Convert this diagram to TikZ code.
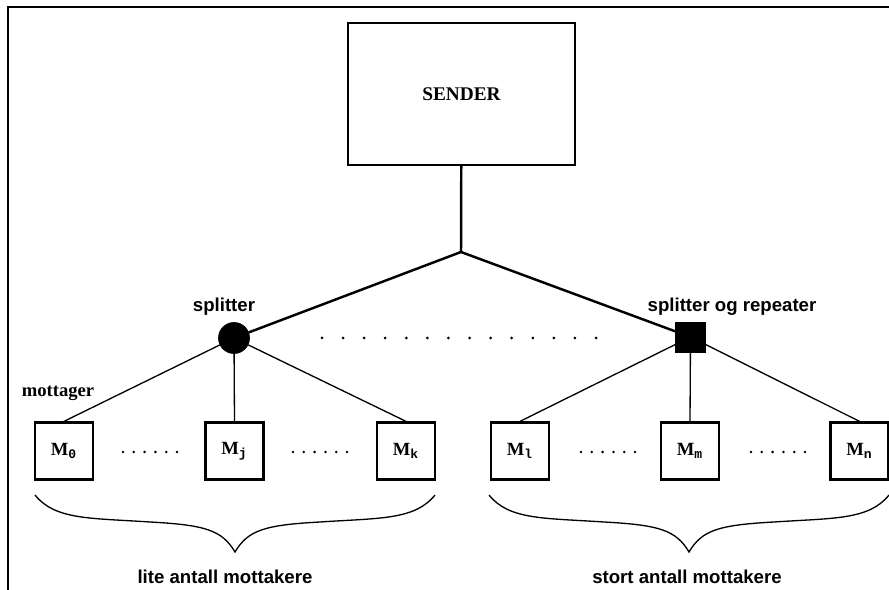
\documentclass[tikz,border=0pt]{standalone}
\usepackage{fontspec}
\setmainfont{Liberation Serif}
\setsansfont{Liberation Sans}
\setmonofont{Liberation Mono}
\usepackage{tikz}
\usetikzlibrary{calc, shapes}
\tikzstyle{block} = [draw, rectangle, line width=1.4pt,
    font=\fontsize{11}{12}\selectfont\bfseries]
\tikzstyle{recv} = [draw, rectangle, line width=1.3pt, minimum width=1.16cm,
    minimum height=1.14cm, font=\fontsize{10.6}{12}\selectfont\bfseries]
\tikzstyle{splitnode} = [draw, circle, fill=black, minimum size=0.62cm, inner sep=0pt]
\tikzstyle{repnode} = [draw, rectangle, fill=black, minimum size=0.6cm, inner sep=0pt]
\tikzstyle{trunk} = [line width=1.4pt]
\tikzstyle{branch} = [line width=0.75pt]
\tikzstyle{sanslabel} = [font=\fontsize{10.6}{12}\selectfont\sffamily\bfseries]
\tikzstyle{seriflabel} = [font=\fontsize{10.6}{12}\selectfont\bfseries]

\begin{document}
\begin{tikzpicture}[x=0.02cm, y=-0.02cm]
        \useasboundingbox (0, 0) rectangle (889, 590);
        \draw[line width=1.5pt] (8, 590) -- (8, 7) -- (889, 7);

        \node[block, minimum width=4.54cm, minimum height=2.84cm, name=sender] at (461.5, 94) {SENDER};
        \coordinate (fork) at (461, 252);
        \node[splitnode, name=split] at (234, 338) {};
        \node[repnode, name=repeat] at (690.5, 337) {};

        \node[recv, name=m0] at (64, 451) {M\textsubscript{\texttt{\bfseries 0}}};
        \node[recv, name=mj] at (234.5, 451) {M\textsubscript{\texttt{\bfseries j}}};
        \node[recv, name=mk] at (406, 451) {M\textsubscript{\texttt{\bfseries k}}};
        \node[recv, name=ml] at (520, 451) {M\textsubscript{\texttt{\bfseries l}}};
        \node[recv, name=mm] at (690, 451) {M\textsubscript{\texttt{\bfseries m}}};
        \node[recv, name=mn] at (859.5, 451) {M\textsubscript{\texttt{\bfseries n}}};

        \draw[trunk] (sender) -- (fork);
        \draw[trunk] (fork) -- (split);
        \draw[trunk] (fork) -- (repeat);
        \foreach \m in {m0, mj, mk}
            \draw[branch] (split) -- (\m.north);
        \foreach \m in {ml, mm, mn}
            \draw[branch] (repeat) -- (\m.north);

        % dotted gaps
        \foreach \i in {0,...,13}
            \fill (322+21.08*\i, 338) circle (1.5);
        \foreach \s in {123, 293, 581, 751}
            \foreach \i in {0,...,5}
                \fill (\s+10.8*\i, 452) circle (1.4);

        % braces under the receivers
        \foreach \bx in {35, 489}
            \draw[branch] (\bx, 495) .. controls (\bx+20, 520) and (\bx+55, 518) .. (\bx+115, 522)
                .. controls (\bx+170, 525) and (\bx+187, 530) .. (\bx+200, 552)
                .. controls (\bx+213, 530) and (\bx+230, 525) .. (\bx+285, 522)
                .. controls (\bx+345, 518) and (\bx+380, 520) .. (\bx+400, 495);

        \node[sanslabel, name=splitlbl] at (224, 307) {splitter};
        \node[sanslabel, name=replbl] at (732, 307) {splitter og repeater};
        \node[seriflabel, name=recvlbl] at (58, 393) {mottager};
        \node[sanslabel, name=fewlbl] at (225, 577) {lite antall mottakere};
        \node[sanslabel, name=manylbl] at (687, 577) {stort antall mottakere};
    \end{tikzpicture}
\end{document}
